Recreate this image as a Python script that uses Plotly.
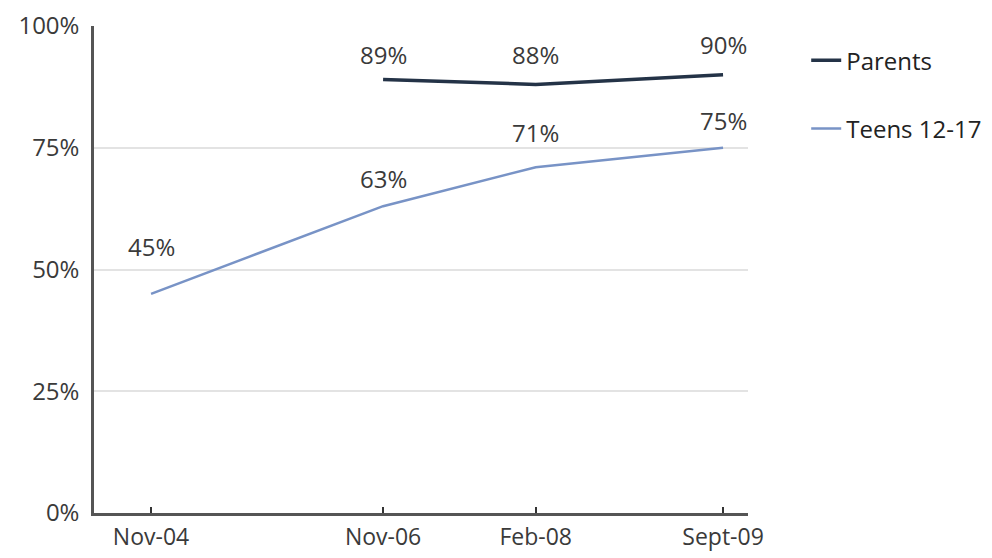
import plotly.graph_objects as go

dates = ["2004-11-15", "2006-11-01", "2008-02-15", "2009-09-15"]
tick_labels = ["Nov-04", "Nov-06", "Feb-08", "Sept-09"]
parents = [None, 89, 88, 90]
teens = [45, 63, 71, 75]
y_ticks = [0, 25, 50, 75, 100]
y_tick_labels = ["0%", "25%", "50%", "75%", "100%"]

FONT = "Open Sans"
TXT = "#3a3a3a"
fig = go.Figure()
fig.add_trace(go.Scatter(x=dates, y=parents, mode="lines", name="Parents",
                         line=dict(color="#243347", width=3.5), legendgroup="p"))
fig.add_trace(go.Scatter(x=dates, y=teens, mode="lines", name="Teens 12-17",
                         line=dict(color="#7893c6", width=2.5), legendgroup="t"))

for d, v, s in zip(dates, teens, [47, 28, 35, 27]):
    fig.add_annotation(x=d, y=v, text=f"{v}%", showarrow=False, yshift=s,
                       font=dict(family=FONT, size=24, color=TXT))
for d, v, s in zip(dates, parents, [30, 25, 30, 30]):
    if v is None:
        continue
    fig.add_annotation(x=d, y=v, text=f"{v}%", showarrow=False, yshift=s,
                       font=dict(family=FONT, size=24, color=TXT))

fig.update_xaxes(type="date", range=["2004-05-23", "2009-12-01"],
                 tickmode="array", tickvals=dates, ticktext=tick_labels,
                 ticks="inside", ticklen=6, tickwidth=2, tickcolor="#333333",
                 showline=True, linecolor="#555555", linewidth=2.5,
                 showgrid=False, zeroline=False, ticklabelstandoff=2,
                 automargin=False,
                 tickfont=dict(family=FONT, size=23, color=TXT))
fig.update_yaxes(range=[0, 100], tickmode="array", tickvals=y_ticks,
                 ticktext=y_tick_labels, showline=True, linecolor="#555555",
                 linewidth=2.5, showgrid=True, gridcolor="#e3e3e3", gridwidth=1.5,
                 zeroline=False, ticks="", ticklabelstandoff=7,
                 automargin=False,
                 tickfont=dict(family=FONT, size=24, color=TXT))
fig.update_layout(width=976, height=550, plot_bgcolor="white", paper_bgcolor="white",
                  margin=dict(l=86, r=236, t=18, b=45, autoexpand=False),
                  legend=dict(x=1.089, y=0.975, xanchor="left", yanchor="top",
                              tracegroupgap=34, itemwidth=30,
                              font=dict(family=FONT, size=24, color="#222222")),
                  showlegend=True)
fig.write_html("out.html")
